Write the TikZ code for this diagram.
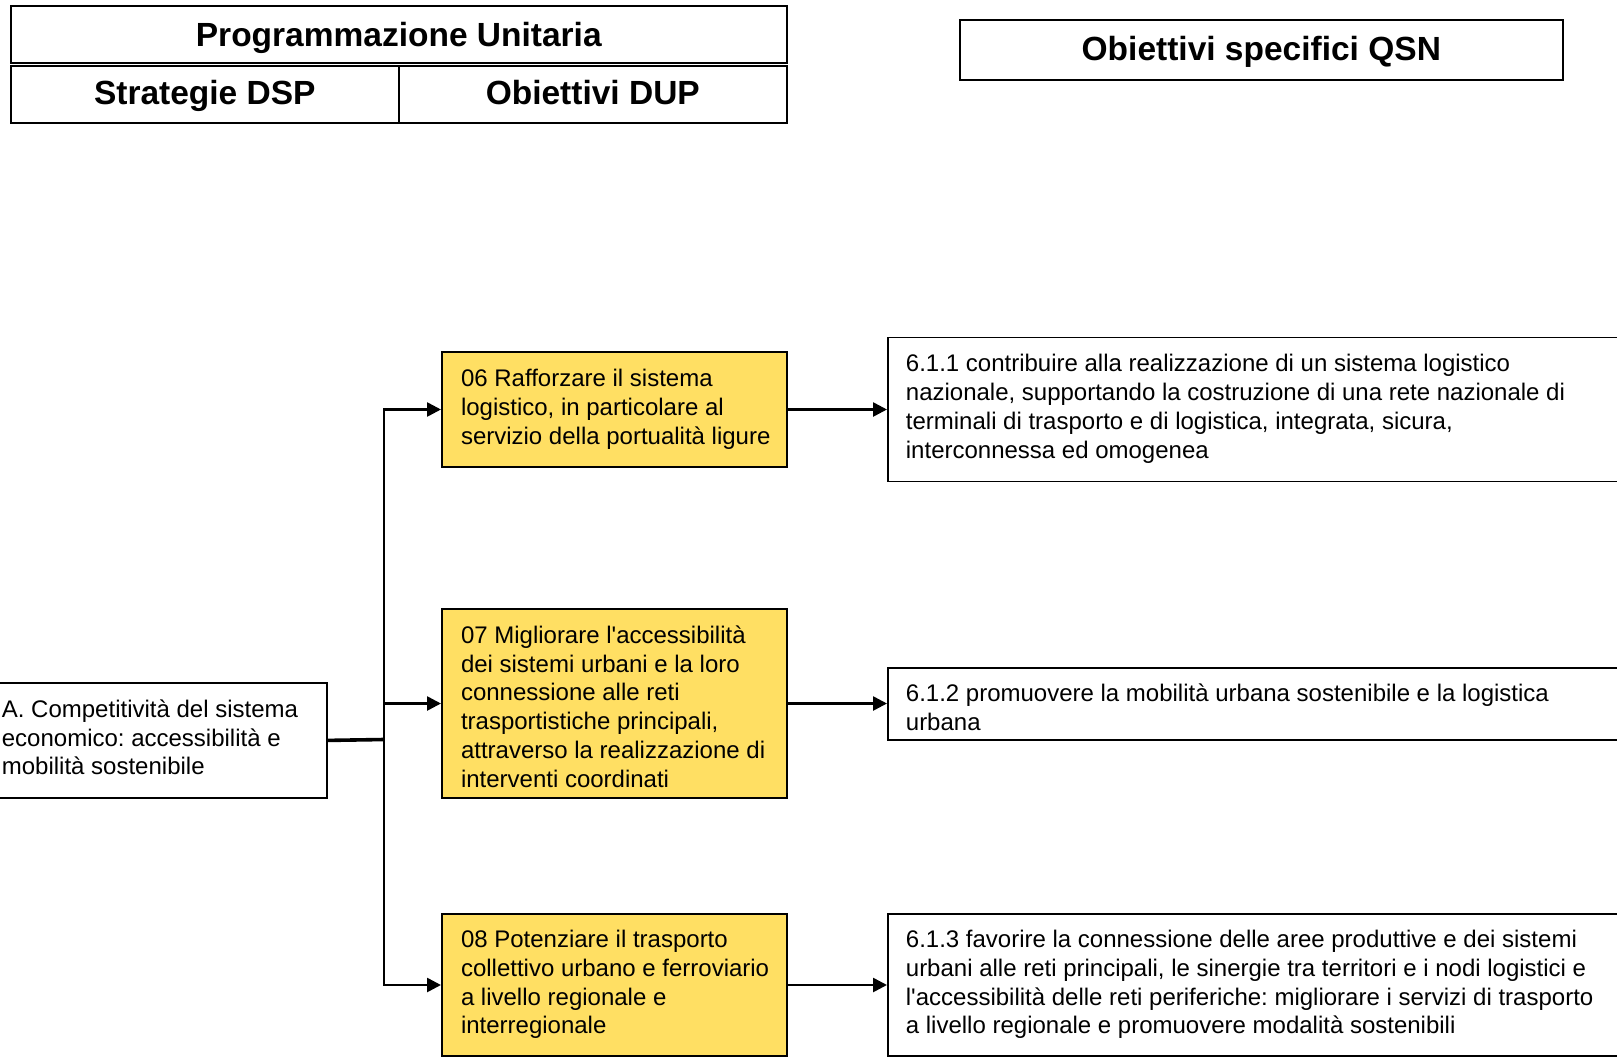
\documentclass[tikz,border=0pt]{standalone}
\usepackage{fontspec}
\setmainfont{Liberation Sans}
\usetikzlibrary{arrows.meta}
\definecolor{gold}{RGB}{255,223,99}
% a block of fixed lines, left aligned in a box of the given width;
% the optional argument adds room above the block to push it down
\newcommand\linesin[3][0pt]{\raisebox{0pt}[\dimexpr\height+#1\relax]{\makebox[#2][l]{\begin{tabular}{@{}l@{}}#3\end{tabular}}}}
\frenchspacing

\begin{document}
\begin{tikzpicture}[x=1pt,y=-1pt,
  every node/.style={inner sep=0pt},
  hdr/.style={draw, line width=1.6pt, font=\fontsize{33.5}{38}\selectfont\bfseries,
    text height=24pt, text depth=0pt},
  txtbox/.style={draw, line width=1.8pt, anchor=north west,
    inner xsep=18pt, font=\fontsize{24}{28.8}\selectfont},
  goal/.style={txtbox, fill=gold, line width=2pt, inner xsep=19pt},
  link/.style={line width=2.6pt},
  arrow/.style={link, -{Triangle[length=14pt,width=14pt]}}]

\useasboundingbox (0,0) rectangle (1617,1057);
\clip (0,0) rectangle (1617,1057);

% header table
\node[hdr, anchor=north west, minimum width=776pt, minimum height=57pt] (pu) at (10,5) {Programmazione Unitaria};
\node[hdr, anchor=north west, minimum width=388pt, minimum height=57pt, text height=20pt] (sdsp) at (10,65) {Strategie DSP};
\node[hdr, anchor=north west, minimum width=388pt, minimum height=57pt, text height=20pt] (odup) at (398,65) {Obiettivi DUP};
\node[hdr, anchor=north west, minimum width=603pt, minimum height=60pt, text height=22pt] (qsn) at (959,19) {Obiettivi specifici QSN};

% strategy
\node[txtbox, minimum width=343pt, minimum height=115pt] (A) at (-17,682)
  {\linesin{307pt}{A. Competitività del sistema\\economico: accessibilità e\\mobilità sostenibile}};

% DUP objectives
\node[goal, minimum width=345pt, minimum height=115pt] (b06) at (441,351)
  {\linesin{307pt}{06 Rafforzare il sistema\\logistico, in particolare al\\servizio della portualità ligure}};
\node[goal, minimum width=345pt, minimum height=189pt] (b07) at (441,608)
  {\linesin[12pt]{307pt}{07 Migliorare l\textquotesingle accessibilità\\dei sistemi urbani e la loro\\connessione alle reti\\trasportistiche principali,\\attraverso la realizzazione di\\interventi coordinati}};
\node[goal, minimum width=345pt, minimum height=142pt] (b08) at (441,913)
  {\linesin{307pt}{08 Potenziare il trasporto\\collettivo urbano e ferroviario\\a livello regionale e\\interregionale}};

% QSN specific objectives
\node[txtbox, minimum width=763pt, minimum height=144pt] (q1) at (887,336.5)
  {\linesin{727pt}{6.1.1 contribuire alla realizzazione di un sistema logistico\\nazionale, supportando la costruzione di una rete nazionale di\\terminali di trasporto e di logistica, integrata, sicura,\\interconnessa ed omogenea}};
\node[txtbox, minimum width=763pt, minimum height=72pt] (q2) at (887,667)
  {\linesin[13pt]{727pt}{6.1.2 promuovere la mobilità urbana sostenibile e la logistica\\urbana}};
\node[txtbox, minimum width=763pt, minimum height=142pt] (q3) at (887,913)
  {\linesin{727pt}{6.1.3 favorire la connessione delle aree produttive e dei sistemi\\urbani alle reti principali, le sinergie tra territori e i nodi logistici e\\l\textquotesingle accessibilità delle reti periferiche: migliorare i servizi di trasporto\\a livello regionale e promuovere modalità sostenibili}};

% connectors
\coordinate (j) at (384,739.5);
\draw[line width=3.6pt] (A.east) -- (j);
\draw[arrow] (j) |- (b06.west);
\draw[arrow] (j) |- (b07.west);
\draw[arrow] (j) |- (b08.west);
\draw[arrow] (b06.east) -- (b06.east -| q1.west);
\draw[arrow] (b07.east) -- (b07.east -| q2.west);
\draw[arrow] (b08.east) -- (b08.east -| q3.west);
\end{tikzpicture}
\end{document}
